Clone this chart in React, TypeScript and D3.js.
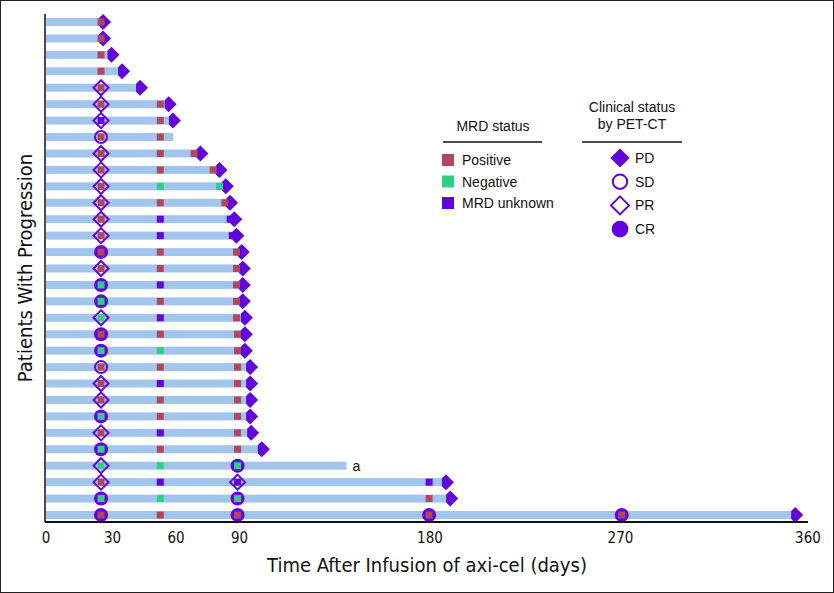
import React from 'react'
import * as d3 from 'd3'

// swimmer rows, top to bottom
const endDays = [26, 26, 30, 35, 43.5, 57, 59, 60, 72, 81, 84, 86, 88, 89, 91.5, 92, 92, 92, 93, 93, 93, 95.5, 95.5, 95.5, 95.5, 96, 101, 142, 188, 190, 353]
const progressed = [1, 1, 1, 1, 1, 1, 1, 0, 1, 1, 1, 1, 1, 1, 1, 1, 1, 1, 1, 1, 1, 1, 1, 1, 1, 1, 1, 0, 1, 1, 1]
const footnotes: [number, string][] = [[27, 'a']]

// [row, day, MRD status, clinical response]
const assessments: [number, number, string, string][] = [
  [0, 26, 'pos', ''], [1, 26, 'pos', ''], [2, 26, 'pos', ''], [3, 26, 'pos', ''],
  [4, 26, 'pos', 'PR'],
  [5, 26, 'pos', 'PR'], [5, 54, 'pos', ''],
  [6, 26, 'unk', 'PR'], [6, 54, 'pos', ''],
  [7, 26, 'pos', 'SD'], [7, 54, 'pos', ''],
  [8, 26, 'pos', 'PR'], [8, 54, 'pos', ''], [8, 70, 'pos', ''],
  [9, 26, 'pos', 'PR'], [9, 54, 'pos', ''], [9, 79, 'pos', ''],
  [10, 26, 'pos', 'PR'], [10, 54, 'neg', ''], [10, 82, 'neg', ''],
  [11, 26, 'pos', 'PR'], [11, 54, 'pos', ''], [11, 84.5, 'pos', ''],
  [12, 26, 'pos', 'PR'], [12, 54, 'unk', ''], [12, 87, 'unk', ''],
  [13, 26, 'pos', 'PR'], [13, 54, 'unk', ''], [13, 88, 'unk', ''],
  [14, 26, 'pos', 'CR'], [14, 54, 'pos', ''], [14, 90, 'pos', ''],
  [15, 26, 'pos', 'PR'], [15, 54, 'pos', ''], [15, 90, 'pos', ''],
  [16, 26, 'neg', 'CR'], [16, 54, 'unk', ''], [16, 90, 'pos', ''],
  [17, 26, 'neg', 'CR'], [17, 54, 'pos', ''], [17, 90, 'pos', ''],
  [18, 26, 'neg', 'PR'], [18, 54, 'unk', ''], [18, 90, 'pos', ''],
  [19, 26, 'pos', 'CR'], [19, 54, 'pos', ''], [19, 90.5, 'pos', ''],
  [20, 26, 'neg', 'CR'], [20, 54, 'neg', ''], [20, 90.5, 'pos', ''],
  [21, 26, 'pos', 'SD'], [21, 54, 'pos', ''], [21, 90.5, 'pos', ''],
  [22, 26, 'pos', 'PR'], [22, 54, 'unk', ''], [22, 90.5, 'pos', ''],
  [23, 26, 'pos', 'PR'], [23, 54, 'pos', ''], [23, 90.5, 'pos', ''],
  [24, 26, 'neg', 'CR'], [24, 54, 'pos', ''], [24, 90.5, 'pos', ''],
  [25, 26, 'pos', 'PR'], [25, 54, 'unk', ''], [25, 90.5, 'pos', ''],
  [26, 26, 'neg', 'CR'], [26, 54, 'pos', ''], [26, 90.5, 'pos', ''],
  [27, 26, 'neg', 'PR'], [27, 54, 'neg', ''], [27, 90.5, 'neg', 'CR'],
  [28, 26, 'pos', 'PR'], [28, 54, 'unk', ''], [28, 90.5, 'unk', 'PR'], [28, 181, 'unk', ''],
  [29, 26, 'neg', 'CR'], [29, 54, 'neg', ''], [29, 90.5, 'neg', 'CR'], [29, 181, 'pos', ''],
  [30, 26, 'pos', 'CR'], [30, 54, 'pos', ''], [30, 90.5, 'pos', 'CR'], [30, 181, 'pos', 'CR'], [30, 272, 'pos', 'CR'],
]

const xTicks = [0, 30, 60, 90, 180, 270, 360]
const mrdLegend = [['pos', 'Positive'], ['neg', 'Negative'], ['unk', 'MRD unknown']]
const respLegend = ['PD', 'SD', 'PR', 'CR']

const mrdColor: Record<string, string> = { pos: '#b0475f', neg: '#2fcf85', unk: '#6204dc' }
const purple = '#6204dc'
const barColor = '#a2c5ee'
const narrow = "'Liberation Sans Narrow', 'DejaVu Sans Condensed', 'Roboto Condensed', sans-serif"
const sans = "'Liberation Sans', Arial, sans-serif"

const W = 834
const H = 593

const diamond = (cx: number, cy: number, r: number) =>
  `M${cx},${cy - r}L${cx + r},${cy}L${cx},${cy + r}L${cx - r},${cy}Z`

function Response({ kind, cx, cy, big = false }: { kind: string; cx: number; cy: number; big?: boolean }) {
  const s = big ? 1.2 : 1
  if (kind === 'PD') return <path d={diamond(cx, cy, 8 * s)} fill={purple} />
  if (kind === 'PR') return <path d={diamond(cx, cy, 7.5 * s)} fill="none" stroke={purple} strokeWidth={2} />
  if (kind === 'SD') return <circle cx={cx} cy={cy} r={6 * s} fill="none" stroke={purple} strokeWidth={2} />
  if (kind === 'CR') return <circle cx={cx} cy={cy} r={7 * s} fill={purple} />
  return null
}

export default function App() {
  const x = d3.scaleLinear().domain([0, 360]).range([46, 808])
  const y = d3.scalePoint<number>().domain(d3.range(endDays.length)).range([22, 515])
  const barH = 8
  const sq = 7

  return (
    <svg width={W} height={H} style={{ position: 'absolute', left: 0, top: 0, background: '#fff' }}>
      <rect x={0.5} y={0.5} width={W - 1} height={H - 1} fill="#fff" stroke="#222" />

      {/* progression diamonds sit under the bar end */}
      {endDays.map((d, i) =>
        progressed[i] ? <Response key={'pd' + i} kind="PD" cx={x(d) + 2} cy={y(i)!} /> : null
      )}

      {endDays.map((d, i) => (
        <rect key={'bar' + i} x={x(0)} y={y(i)! - barH / 2} width={Math.max(0, x(d) - x(0) - (progressed[i] ? 2 : 0))}
          height={barH} fill={barColor} />
      ))}

      {assessments.filter(a => a[3]).map((a, k) => (
        <Response key={'r' + k} kind={a[3]} cx={x(a[1])} cy={y(a[0])!} />
      ))}

      {assessments.map((a, k) => (
        <rect key={'m' + k} x={x(a[1]) - sq / 2} y={y(a[0])! - sq / 2} width={sq} height={sq} fill={mrdColor[a[2]]} />
      ))}

      {footnotes.map(([i, t]) => (
        <text key={'fn' + i} x={x(endDays[i]) + 6} y={y(i)! + 5} fontFamily={sans} fontSize={14} fill="#111">{t}</text>
      ))}

      {/* axes */}
      <line x1={x(0) - 1} x2={x(0) - 1} y1={14} y2={522} stroke="#111" strokeWidth={1.5} />
      <line x1={x(0) - 1} x2={x(360)} y1={522} y2={522} stroke="#111" strokeWidth={2} />
      {xTicks.map(t => (
        <text key={'t' + t} x={x(t) + (t > 0 && t < 360 ? 3 : 0)} y={543} textAnchor="middle" fontFamily={narrow} fontSize={15} fill="#111">{t}</text>
      ))}
      <text x={427} y={572} textAnchor="middle" fontFamily={narrow} fontSize={20} fill="#111">
        Time After Infusion of axi-cel (days)
      </text>
      <text transform="translate(32,268) rotate(-90)" textAnchor="middle" fontFamily={narrow} fontSize={20} fill="#111">
        Patients With Progression
      </text>

      {/* MRD legend */}
      <text x={493} y={131} textAnchor="middle" fontFamily={sans} fontSize={14} fill="#111">MRD status</text>
      <line x1={443} x2={542} y1={142} y2={142} stroke="#111" strokeWidth={1.5} />
      {mrdLegend.map(([k, label], i) => (
        <g key={k} transform={`translate(0,${160 + i * 21.5})`}>
          <rect x={442} y={-6} width={12} height={12} fill={mrdColor[k]} />
          <text x={462} y={5} fontFamily={sans} fontSize={14} fill="#111">{label}</text>
        </g>
      ))}

      {/* clinical status legend */}
      <text x={632} y={112} textAnchor="middle" fontFamily={sans} fontSize={14} fill="#111">Clinical status</text>
      <text x={632} y={129} textAnchor="middle" fontFamily={sans} fontSize={14} fill="#111">by PET-CT</text>
      <line x1={582} x2={682} y1={142} y2={142} stroke="#111" strokeWidth={1.5} />
      {respLegend.map((k, i) => (
        <g key={k}>
          <Response kind={k} cx={620} cy={158 + i * 23.7} big />
          <text x={635} y={158 + i * 23.7 + 5} fontFamily={sans} fontSize={14} fill="#111">{k}</text>
        </g>
      ))}
    </svg>
  )
}
